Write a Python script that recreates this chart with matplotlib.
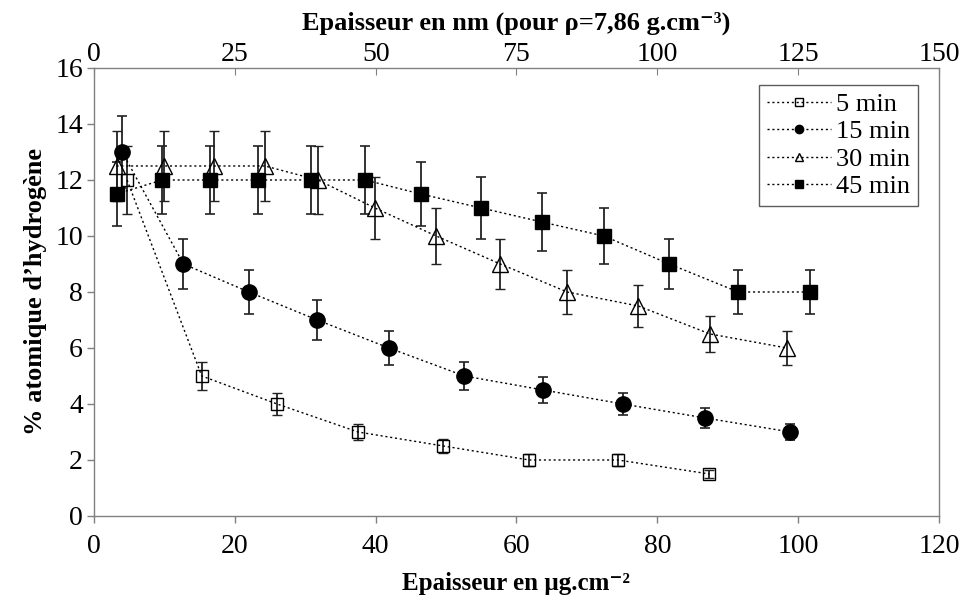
import numpy as np
import matplotlib.pyplot as plt
from matplotlib.lines import Line2D

plt.rcParams['font.family'] = ['Liberation Serif', 'DejaVu Serif']

# donnees (x en ug.cm-2, y en % atomique)
x_5 = [4.7, 15.3, 26.0, 37.5, 49.6, 61.8, 74.4, 87.4]
y_5 = [12.0, 5.0, 4.0, 3.0, 2.5, 2.0, 2.0, 1.5]
e_5 = [1.2, 0.5, 0.4, 0.3, 0.25, 0.2, 0.2, 0.15]

x_15 = [4.0, 12.7, 22.0, 31.7, 41.9, 52.6, 63.8, 75.1, 86.8, 98.9]
y_15 = [13.0, 9.0, 8.0, 7.0, 6.0, 5.0, 4.5, 4.0, 3.5, 3.0]
e_15 = [1.3, 0.9, 0.8, 0.7, 0.6, 0.5, 0.45, 0.4, 0.35, 0.3]

x_30 = [3.2, 10.0, 17.0, 24.3, 31.8, 39.9, 48.6, 57.7, 67.2, 77.3, 87.5, 98.4]
y_30 = [12.5, 12.5, 12.5, 12.5, 12.0, 11.0, 10.0, 9.0, 8.0, 7.5, 6.5, 6.0]
e_30 = [1.25, 1.25, 1.25, 1.25, 1.2, 1.1, 1.0, 0.9, 0.8, 0.75, 0.65, 0.6]

x_45 = [3.2, 9.7, 16.5, 23.3, 30.8, 38.5, 46.4, 55.0, 63.6, 72.4, 81.7, 91.5, 101.7]
y_45 = [11.5, 12.0, 12.0, 12.0, 12.0, 12.0, 11.5, 11.0, 10.5, 10.0, 9.0, 8.0, 8.0]
e_45 = [1.15, 1.2, 1.2, 1.2, 1.2, 1.2, 1.15, 1.1, 1.05, 1.0, 0.9, 0.8, 0.8]

labels = ['5 min', '15 min', '30 min', '45 min']
x_ticks = [0, 20, 40, 60, 80, 100, 120]
y_ticks = [0, 2, 4, 6, 8, 10, 12, 14, 16]
top_ticks = [0, 25, 50, 75, 100, 125, 150]

fig = plt.figure(figsize=(9.65, 5.99), dpi=100)
ax = fig.add_axes([0.0974, 0.1386, 0.8756, 0.7479])

styles = [
    dict(marker='s', ms=9, mfc='none', mec='black', mew=1.0),
    dict(marker='o', ms=11, mfc='black', mec='black'),
    dict(marker='^', ms=11, mfc='none', mec='black', mew=1.0),
    dict(marker='s', ms=10, mfc='black', mec='black'),
]
series = [(x_5, y_5, e_5), (x_15, y_15, e_15), (x_30, y_30, e_30), (x_45, y_45, e_45)]

for (x, y, e), st in zip(series, styles):
    ax.errorbar(x, y, yerr=e, color='black', ls=(0, (1.5, 2)), lw=1.0,
                elinewidth=1.3, capsize=3.5, capthick=1.2, ecolor='#222222', **st)

ax.set_xlim(0, 120)
ax.set_ylim(0, 16)
ax.set_xticks(x_ticks)
ax.set_yticks(y_ticks)
ax.tick_params(axis='both', labelsize=20, color='#808080', length=5, width=1)
ax.tick_params(axis='x', direction='out', pad=8)
ax.tick_params(axis='y', pad=3)
for sp in ax.spines.values():
    sp.set_color('#808080')
    sp.set_linewidth(1)
ax.set_xlabel('Epaisseur en µg.cm⁻²', fontsize=18, fontweight='bold', labelpad=9)
ax.set_ylabel("% atomique d’hydrogène", fontsize=19, fontweight='bold', labelpad=6)

# axe du haut en nm
ax2 = ax.twiny()
ax2.set_xlim(0, 150)
ax2.set_xticks(top_ticks)
ax2.tick_params(axis='x', labelsize=20, direction='in', color='#808080', length=5, pad=1)
for sp in ax2.spines.values():
    sp.set_visible(False)
ax2.set_xlabel('Epaisseur en nm (pour ρ=7,86 g.cm⁻³)', fontsize=19,
               fontweight='bold', labelpad=9)

handles = [Line2D([], [], color='black', ls=(0, (1.5, 2)), lw=1.0, marker=st['marker'],
                  ms=6, mfc=st['mfc'], mec='black') for st in styles]
leg = ax.legend(handles, labels, loc='upper right', bbox_to_anchor=(0.975, 0.963),
                fontsize=19, frameon=True, fancybox=False, handlelength=2.4,
                handletextpad=0.2, borderpad=0.3, labelspacing=0.15, borderaxespad=0)
leg.get_frame().set_edgecolor('#333333')
leg.get_frame().set_linewidth(1)

fig.savefig('out.png', dpi=100)
